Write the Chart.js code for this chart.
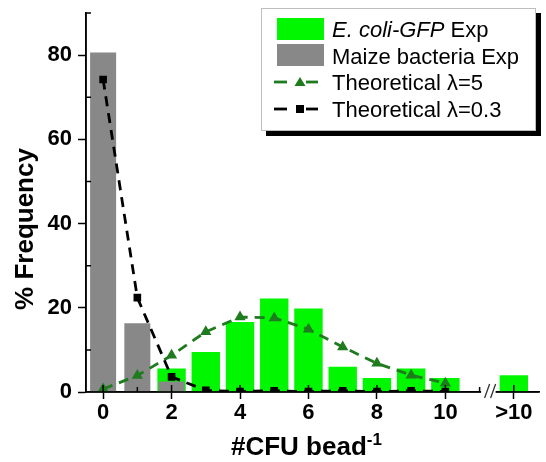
<!DOCTYPE html>
<html>
<head>
<meta charset="utf-8">
<script src="https://cdn.jsdelivr.net/npm/chart.js@4.4.1/dist/chart.umd.min.js"></script>
<style>
  html, body { margin: 0; padding: 0; background: #fff; }
  #wrap { position: relative; width: 546px; height: 462px; font-family: "Liberation Sans", Arial, sans-serif; color: #000; }
  #chart { position: absolute; left: 0; top: 0; }
  .legend-box { position: absolute; left: 261px; top: 8px; width: 275px; height: 123px; box-sizing: border-box;
    border: 1px solid #bdbdbd; background: #fff; box-shadow: 5px 5px 0 #000; }
  .sw { position: absolute; }
  .lt { position: absolute; left: 332px; font-size: 22px; line-height: 26px; white-space: nowrap; }
  .ytitle { position: absolute; left: -86px; top: 214px; width: 220px; height: 30px; line-height: 30px; text-align: center;
    font-weight: bold; font-size: 26px; transform: rotate(-90deg); transform-origin: 50% 50%; white-space: nowrap; }
  .xtitle { position: absolute; left: 231px; top: 433px; font-weight: bold; font-size: 26px; line-height: 26px; white-space: nowrap; }
  .xtitle .sup { font-size: 17px; position: relative; top: -10px; }
</style>
</head>
<body>
<div id="wrap">
  <canvas id="chart" width="546" height="462"></canvas>

  <div class="legend-box"></div>
  <div class="sw" style="left:277px;top:18px;width:47px;height:22px;background:#00f700;"></div>
  <div class="lt" style="top:17px;"><i>E. coli-GFP</i> Exp</div>
  <div class="sw" style="left:277px;top:44px;width:47px;height:22px;background:#888888;"></div>
  <div class="lt" style="top:44px;">Maize bacteria Exp</div>
  <svg class="sw" style="left:270px;top:74px;" width="52" height="16" viewBox="0 0 52 16">
    <line x1="4" y1="8" x2="17" y2="8" stroke="#1e7b1e" stroke-width="2.8"/>
    <polygon points="30,3 35.5,12 24.5,12" fill="#1e7b1e"/>
    <line x1="36" y1="8" x2="48" y2="8" stroke="#1e7b1e" stroke-width="2.8"/>
  </svg>
  <div class="lt" style="top:70px;">Theoretical λ=5</div>
  <svg class="sw" style="left:270px;top:101px;" width="52" height="16" viewBox="0 0 52 16">
    <line x1="4" y1="8" x2="17" y2="8" stroke="#000" stroke-width="2.8"/>
    <rect x="26" y="4" width="8" height="8" fill="#000"/>
    <line x1="36" y1="8" x2="48" y2="8" stroke="#000" stroke-width="2.8"/>
  </svg>
  <div class="lt" style="top:97px;">Theoretical λ=0.3</div>

  <div class="ytitle">% Frequency</div>
  <div class="xtitle">#CFU bead<span class="sup">-1</span></div>
</div>

<script>
// ---- data ----
const xPositions   = [0, 1, 2, 3, 4, 5, 6, 7, 8, 9, 10, 12];          // 12 is the ">10" slot after the axis break
const ecoliExp     = [null, null, 5.6, 9.5, 16.6, 22.2, 19.8, 6.0, 3.3, 5.6, 3.3, 4.0];
const maizeExp     = [80.6, 16.3, 2.5, null, null, null, null, null, null, null, null, null];
const theoLambda5  = [0.7, 3.9, 8.7, 14.3, 17.8, 17.6, 14.9, 10.7, 6.8, 4.0, 2.1, null];
const theoLambda03 = [74.2, 22.4, 3.6, 0.4, 0.1, 0.3, 0.1, 0.3, 0.1, 0.3, 0.1, null];

const xTickValues = [0, 1, 2, 3, 4, 5, 6, 7, 8, 9, 10, 11, 12];
const xTickLabels = ['0', '', '2', '', '4', '', '6', '', '8', '', '10', '', '>10'];
const yTickValues = [0, 10, 20, 30, 40, 50, 60, 70, 80, 90];
const yTickLabels = ['0', '', '20', '', '40', '', '60', '', '80', ''];
const breakAfter = 11;

const toXY = arr => xPositions.map((x, i) => ({ x: x, y: arr[i] }));
const isMajorX = v => xTickLabels[xTickValues.indexOf(v)] !== '';
const isMajorY = v => yTickLabels[yTickValues.indexOf(v)] !== '';

const GREEN_LINE = '#1e7b1e';
const tickFont = { family: '"Liberation Sans", Arial, sans-serif', size: 22, weight: 'bold' };

const axisDecor = {
  id: 'axisDecor',
  afterDatasetsDraw(chart) {
    const { ctx, chartArea: a, scales: { x, y } } = chart;
    ctx.save();
    ctx.strokeStyle = '#000';
    ctx.lineWidth = 1.5;
    ctx.beginPath();
    ctx.moveTo(a.left, a.top); ctx.lineTo(a.left, a.bottom);
    ctx.moveTo(a.left, a.bottom); ctx.lineTo(a.right, a.bottom);
    xTickValues.forEach(v => {
      const px = x.getPixelForValue(v);
      ctx.moveTo(px, a.bottom); ctx.lineTo(px, a.bottom - (isMajorX(v) ? 7 : 5));
    });
    yTickValues.forEach(v => {
      if (!isMajorY(v)) {
        const py = y.getPixelForValue(v);
        ctx.moveTo(a.left, py); ctx.lineTo(a.left + 5, py);
      }
    });
    ctx.stroke();
    const bx = x.getPixelForValue(breakAfter);
    ctx.fillStyle = '#fff';
    ctx.fillRect(bx + 1.5, a.bottom - 3, 14.5, 6);
    ctx.strokeStyle = '#333';
    ctx.lineWidth = 1.3;
    ctx.beginPath();
    ctx.moveTo(bx + 5, a.bottom + 6); ctx.lineTo(bx + 10, a.bottom - 8);
    ctx.moveTo(bx + 11, a.bottom + 6); ctx.lineTo(bx + 16, a.bottom - 8);
    ctx.stroke();
    ctx.restore();
  }
};

const lineCommon = {
  type: 'line', borderWidth: 2.8, borderDash: [10, 7], pointBorderWidth: 0,
  tension: 0, fill: false
};

new Chart(document.getElementById('chart'), {
  type: 'bar',
  data: {
    datasets: [
      Object.assign({}, lineCommon, {
        label: 'Theoretical λ=0.3', data: toXY(theoLambda03), order: 0,
        borderColor: '#000', pointStyle: 'rect', pointRadius: 5.4, pointBackgroundColor: '#000'
      }),
      Object.assign({}, lineCommon, {
        label: 'Theoretical λ=5', data: toXY(theoLambda5), order: 1,
        borderColor: GREEN_LINE, pointStyle: 'triangle', pointRadius: 6.5, pointBackgroundColor: GREEN_LINE
      }),
      {
        label: 'Maize bacteria Exp', data: toXY(maizeExp), order: 2,
        backgroundColor: '#888888', borderWidth: 0,
        grouped: false, barPercentage: 0.76, categoryPercentage: 1
      },
      {
        label: 'E. coli-GFP Exp', data: toXY(ecoliExp), order: 3,
        backgroundColor: '#00f700', borderWidth: 0,
        grouped: false, barPercentage: 0.83, categoryPercentage: 1
      }
    ]
  },
  options: {
    responsive: false,
    animation: false,
    devicePixelRatio: 1,
    layout: { padding: { top: 13, right: 5, left: 0, bottom: 0 } },
    plugins: { legend: { display: false }, tooltip: { enabled: false } },
    scales: {
      x: {
        type: 'linear', min: -0.5, max: 12.75, offset: false,
        afterBuildTicks: s => { s.ticks = xTickValues.map(v => ({ value: v })); },
        afterFit: s => { s.height = 70; s.paddingLeft = 0; s.paddingRight = 0; },
        ticks: {
          autoSkip: false, maxRotation: 0, padding: 1, color: '#000', font: tickFont,
          callback: v => xTickLabels[xTickValues.indexOf(v)]
        },
        grid: {
          offset: false, drawOnChartArea: false, drawTicks: true, tickLength: 7, tickWidth: 1.5,
          tickColor: c => (c.tick && isMajorX(c.tick.value)) ? '#000' : 'rgba(0,0,0,0)'
        },
        border: { display: true, color: '#000', width: 1.5 }
      },
      y: {
        type: 'linear', min: 0, max: 90,
        afterBuildTicks: s => { s.ticks = yTickValues.map(v => ({ value: v })); },
        afterFit: s => { s.width = 86; s.paddingTop = 0; s.paddingBottom = 0; },
        ticks: {
          autoSkip: false, padding: 6, color: '#000', font: tickFont,
          callback: v => yTickLabels[yTickValues.indexOf(v)]
        },
        grid: {
          drawOnChartArea: false, drawTicks: true, tickLength: 8, tickWidth: 1.5,
          tickColor: c => (c.tick && isMajorY(c.tick.value)) ? '#000' : 'rgba(0,0,0,0)'
        },
        border: { display: true, color: '#000', width: 1.5 }
      }
    }
  },
  plugins: [axisDecor]
});
</script>
</body>
</html>
